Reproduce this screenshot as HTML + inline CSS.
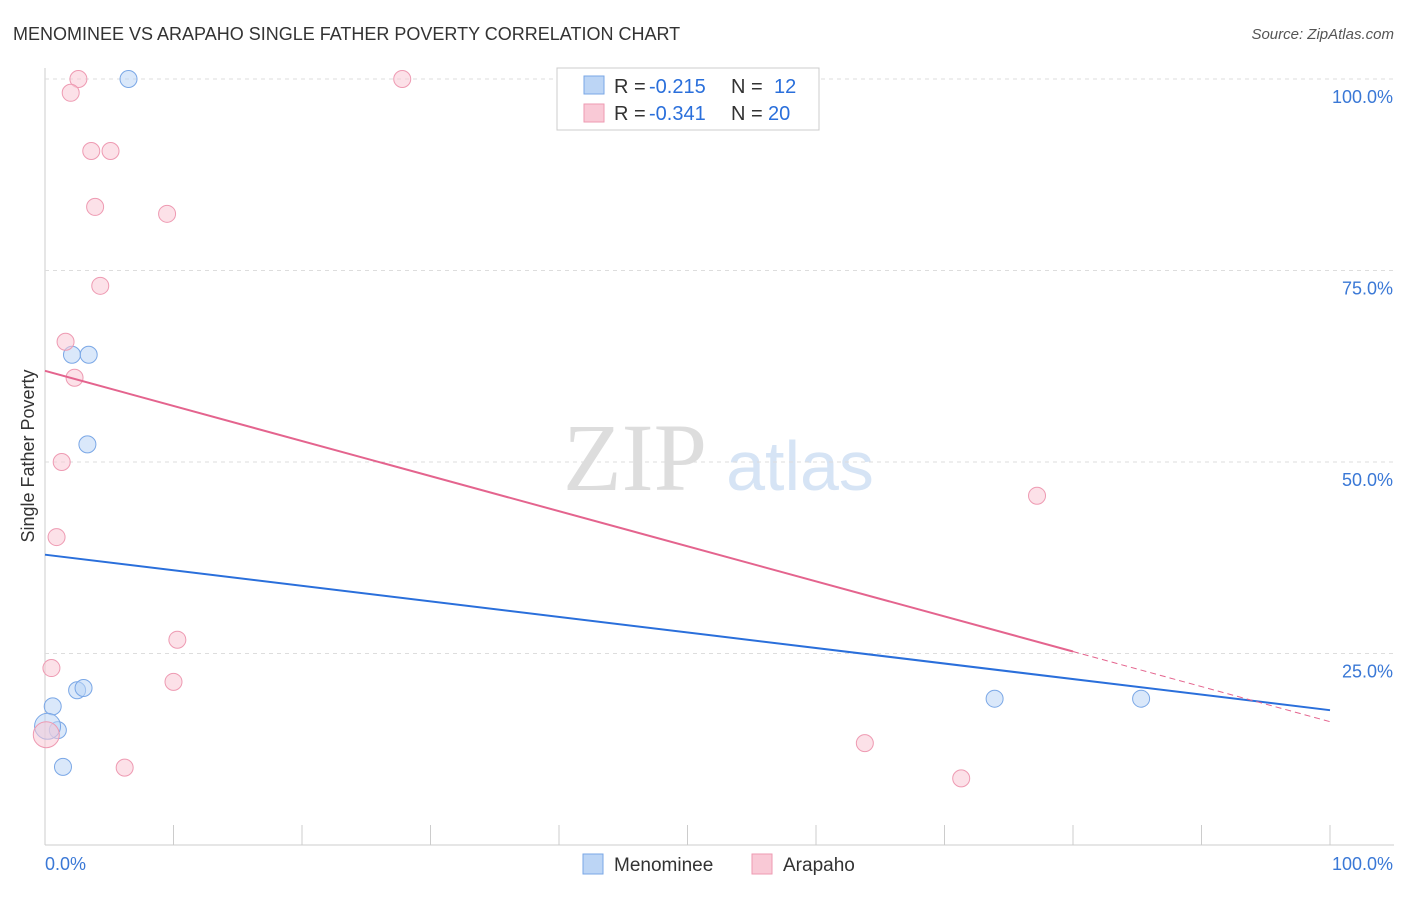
<!DOCTYPE html>
<html><head><meta charset="utf-8"><style>
body{margin:0;background:#fff;font-family:"Liberation Sans",sans-serif}
</style></head><body>
<svg id="c" width="1406" height="892">
<text x="13" y="40" font-size="18" fill="#333">MENOMINEE VS ARAPAHO SINGLE FATHER POVERTY CORRELATION CHART</text>
<text x="1394" y="39" font-size="15" fill="#555" text-anchor="end" font-style="italic">Source: ZipAtlas.com</text>
<text x="34" y="456" font-size="18" fill="#333" text-anchor="middle" transform="rotate(-90 34 456)">Single Father Poverty</text>
<text x="635" y="490" font-size="96" fill="#ddd" font-family="Liberation Serif,serif" text-anchor="middle">ZIP</text>
<text x="800" y="490" font-size="70" fill="#d6e4f5" text-anchor="middle">atlas</text>
<g id="grid"></g><g id="pts"></g><g id="trend"></g>
<g>
<rect x="557" y="68" width="262" height="62" fill="#fff" stroke="#ccc"/>
<rect x="584" y="76" width="20" height="18" fill="#bcd5f5" stroke="#7aa7e6"/>
<text x="614" y="93" font-size="20" fill="#333">R =</text>
<text x="649" y="93" font-size="20" fill="#2a6fdb">-0.215</text>
<text x="731" y="93" font-size="20" fill="#333">N =</text>
<text x="774" y="93" font-size="20" fill="#2a6fdb">12</text>
<rect x="584" y="104" width="20" height="18" fill="#f9c9d6" stroke="#ee9ab2"/>
<text x="614" y="120" font-size="20" fill="#333">R =</text>
<text x="649" y="120" font-size="20" fill="#2a6fdb">-0.341</text>
<text x="731" y="120" font-size="20" fill="#333">N =</text>
<text x="768" y="120" font-size="20" fill="#2a6fdb">20</text>
</g>
<g>
<rect x="583" y="854" width="20" height="20" fill="#bcd5f5" stroke="#7aa7e6"/>
<text x="614" y="871" font-size="19" fill="#333">Menominee</text>
<rect x="752" y="854" width="20" height="20" fill="#f9c9d6" stroke="#ee9ab2"/>
<text x="783" y="871" font-size="19" fill="#333">Arapaho</text>
</g>
</svg>
<script>
const yTicks=[25,50,75,100];
const xTickLabels=["0.0%","100.0%"];
const menX=[6.5,2.1,3.4,3.3,0.6,2.5,3.0,1.0,1.4,73.9,85.3,0.2];
const menY=[100,64.0,64.0,52.3,18.1,20.2,20.5,15.0,10.2,19.1,19.1,15.5];
const araX=[2.6,2.0,27.8,3.6,5.1,3.9,9.5,4.3,1.6,2.3,1.3,0.9,77.2,10.3,0.5,10.0,6.2,63.8,71.3,0.1];
const araY=[100,98.2,100,90.6,90.6,83.3,82.4,73.0,65.7,61.0,50.0,40.2,45.6,26.8,23.1,21.3,10.1,13.3,8.7,14.4];
const menTrend=[37.9,17.6];
const araTrend=[61.9,16.1];
const araSolidEnd=80;
const X=v=>45+v*12.85, Y=v=>845-v*7.66;
const NS="http://www.w3.org/2000/svg";
function mk(g,t,a){const e=document.createElementNS(NS,t);for(const k in a)e.setAttribute(k,a[k]);document.getElementById(g).appendChild(e);return e;}
let e;
e=mk('grid','line',{x1:45,y1:68,x2:45,y2:845,stroke:'#ccc'});


e=mk('grid','line',{x1:45,y1:845,x2:1394,y2:845,stroke:'#ccc'});


for(let i=0;i<=10;i++){e=mk('grid','line',{x1:45+i*128.5,y1:825,x2:45+i*128.5,y2:845,stroke:'#ccc'});

}
yTicks.forEach(t=>{e=mk('grid','line',{x1:45,y1:Y(t),x2:1394,y2:Y(t),stroke:'#ddd','stroke-dasharray':'4,4'});


e=mk('grid','text',{x:1393,y:Y(t)+24,'font-size':18,fill:'#3a78d6','text-anchor':'end'});e.textContent=t.toFixed(1)+'%';

});
e=mk('grid','text',{x:45,y:870,'font-size':18,fill:'#3a78d6'});e.textContent=xTickLabels[0];


e=mk('grid','text',{x:1393,y:870,'font-size':18,fill:'#3a78d6','text-anchor':'end'});e.textContent=xTickLabels[1];


menX.forEach((x,i)=>{e=mk('pts','circle',{cx:X(x),cy:Y(menY[i]),r:i==11?13:8.5,fill:'#bcd5f5','fill-opacity':0.55,stroke:'#7aa7e6'});

});
araX.forEach((x,i)=>{e=mk('pts','circle',{cx:X(x),cy:Y(araY[i]),r:i==19?13:8.5,fill:'#f9c9d6','fill-opacity':0.55,stroke:'#ee9ab2'});

});
e=mk('trend','line',{x1:X(0),y1:Y(menTrend[0]),x2:X(100),y2:Y(menTrend[1]),stroke:'#2a6fdb','stroke-width':2});


const am=araTrend[0]+(araTrend[1]-araTrend[0])*araSolidEnd/100;
e=mk('trend','line',{x1:X(0),y1:Y(araTrend[0]),x2:X(araSolidEnd),y2:Y(am),stroke:'#e4648e','stroke-width':2});


e=mk('trend','line',{x1:X(araSolidEnd),y1:Y(am),x2:X(100),y2:Y(araTrend[1]),stroke:'#e4648e','stroke-width':1,'stroke-dasharray':'6,4'});


</script>
</body></html>
